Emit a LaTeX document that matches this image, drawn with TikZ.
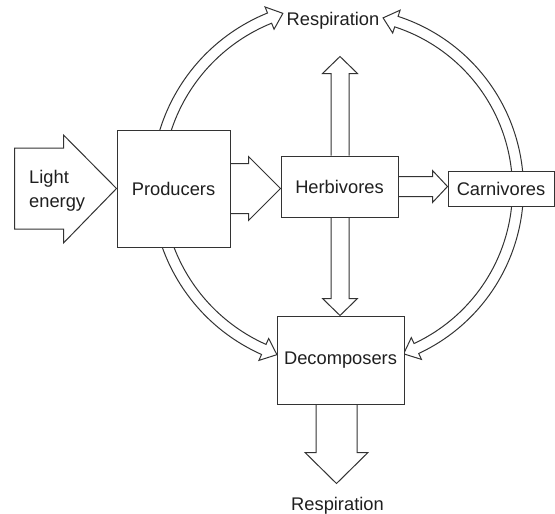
\documentclass[tikz,border=0pt]{standalone}
\usepackage{fontspec}
\setmainfont{Liberation Sans}
\usetikzlibrary{calc}
\pgfdeclarelayer{background}
\pgfsetlayers{background,main}

\colorlet{ink}{black!80}
\tikzset{
  ln/.style={draw=ink, line width=1pt, line join=miter},
  blk/.style={ln, fill=white},
  box/.style={ln, fill=white, rectangle, inner sep=0pt},
  lbl/.style={text=black!88, font=\fontsize{18.3}{24}\selectfont, inner sep=0pt},
}

% hollow arrow bent along a circle: centre x, centre y, radius, start angle, head base angle, tip angle
\newcommand{\ringarrow}[6]{%
  \draw[blk] plot[domain=#4:#5, samples=50] ({#1+(#3+5.5)*cos(\x)},{#2+(#3+5.5)*sin(\x)})
    -- ({#1+(#3+12)*cos(#5)},{#2+(#3+12)*sin(#5)})
    -- ({#1+#3*cos(#6)},{#2+#3*sin(#6)})
    -- ({#1+(#3-12)*cos(#5)},{#2+(#3-12)*sin(#5)})
    -- plot[domain=#5:#4, samples=50] ({#1+(#3-5.5)*cos(\x)},{#2+(#3-5.5)*sin(\x)});
}

\begin{document}
\begin{tikzpicture}[x=1pt, y=-1pt]
\useasboundingbox (0,0) rectangle (555,514);

% trophic levels
\node[box, lbl, minimum width=113pt, minimum height=117pt] (prod) at (173.5,188.5) {Producers};
\node[box, lbl, minimum width=117pt, minimum height=61pt]  (herb) at (339.5,186.5) {Herbivores};
\node[box, lbl, minimum width=106pt, minimum height=35pt]  (carn) at (501,188.5)   {Carnivores};
\node[box, lbl, minimum width=127pt, minimum height=88pt]  (dec)  at (340.5,360)   {Decomposers};

% respiration outputs
\node[lbl, anchor=base] (resp)  at (333,25)    {Respiration};
\node[lbl, anchor=base] (respb) at (337.5,510) {Respiration};

% light input label
\node[lbl, anchor=west, align=left] (light) at (29,190.4) {Light\\energy};

\coordinate (uptip) at ($(herb.north)+(0.5,-99)$);
\coordinate (drain) at ($(dec.south)+(-4,79)$);

\begin{pgfonlayer}{background}
  % curved respiration and decay flows
  \ringarrow{337}{185}{180}{195}{248}{252.5}
  \ringarrow{337}{185}{180}{163}{114}{109.5}
  \ringarrow{342}{189}{176}{360}{288}{283.5}
  \ringarrow{342}{189}{176}{0}{65}{69.5}

  % light energy into producers
  \draw[blk] ($(prod.west)+(-102,-40.5)$) -- ++(49,0) -- ++(0,-13) -- (prod.west)
    -- ($(prod.west)+(-53,54.5)$) -- ++(0,-14) -- ($(prod.west)+(-102,40.5)$) -- cycle;

  % producers to herbivores
  \draw[blk] ($(prod.east)+(0,-25)$) -- ++(18,0) -- ++(0,-7) -- (prod.east -| herb.west)
    -- ($(prod.east)+(18,32)$) -- ++(0,-7) -- ($(prod.east)+(0,25)$);

  % herbivores to carnivores
  \draw[blk] ($(herb.east)+(0,-10)$) -- ++(34,0) -- ++(0,-6) -- (herb.east -| carn.west)
    -- ($(herb.east)+(34,16)$) -- ++(0,-6) -- ($(herb.east)+(0,10)$);

  % herbivores up to respiration
  \draw[blk] ($(herb.north)+(-8.5,0)$) -- ++(0,-82) -- ++(-8.5,0) -- (uptip)
    -- ($(herb.north)+(18,-82)$) -- ++(-8.5,0) -- ($(herb.north)+(9.5,0)$);

  % herbivores down to decomposers
  \draw[blk] ($(herb.south)+(-8.5,0)$) -- ($(herb.south |- dec.north)+(-8.5,-17)$) -- ++(-8.5,0)
    -- ($(herb.south |- dec.north)+(0.5,0)$)
    -- ($(herb.south |- dec.north)+(18,-17)$) -- ++(-8.5,0) -- ($(herb.south)+(9.5,0)$);

  % decomposers down to respiration
  \draw[blk] ($(dec.south)+(-24.5,0)$) -- ++(0,48) -- ++(-11,0) -- (drain)
    -- ($(dec.south)+(27.5,48)$) -- ++(-11,0) -- ($(dec.south)+(16.5,0)$);
\end{pgfonlayer}
\end{tikzpicture}
\end{document}
